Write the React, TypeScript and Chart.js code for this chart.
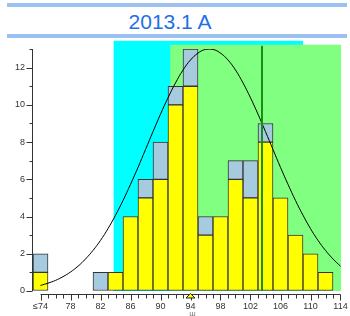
import React, { useEffect, useRef } from "react";
import { Chart, registerables } from "chart.js";

Chart.register(...registerables);

// ---- data ----
const binCenters = [74, 76, 78, 80, 82, 84, 86, 88, 90, 92, 94, 96, 98, 100, 102, 104, 106, 108, 110, 112];
const yellowCounts = [1, 0, 0, 0, 0, 1, 4, 5, 6, 10, 11, 3, 4, 6, 5, 8, 5, 3, 2, 1];
const blueCounts = [1, 0, 0, 0, 1, 0, 0, 1, 2, 1, 2, 1, 0, 1, 2, 1, 0, 0, 0, 0];

const curveX = [74, 75, 76, 77, 78, 79, 80, 81, 82, 83, 84, 85, 86, 87, 88, 89, 90, 91, 92, 93, 94,
  95, 96, 97, 98, 99, 100, 101, 102, 103, 104, 105, 106, 107, 108, 109, 110, 111, 112, 113, 114];
const curveY = [0.30, 0.42, 0.57, 0.77, 1.02, 1.33, 1.72, 2.18, 2.72, 3.35, 4.07, 4.86, 5.73, 6.64, 7.60,
  8.56, 9.50, 10.38, 11.18, 11.87, 12.41, 12.78, 12.98, 12.98, 12.78, 12.41, 11.87, 11.18, 10.38, 9.50,
  8.56, 7.60, 6.64, 5.73, 4.86, 4.07, 3.35, 2.72, 2.18, 1.72, 1.33];

const xTickValues = [74, 78, 82, 86, 90, 94, 98, 102, 106, 110, 114];
const xTickLabels = ["≤74", "78", "82", "86", "90", "94", "98", "102", "106", "110", "114"];
const yTickValues = [0, 1, 2, 3, 4, 5, 6, 7, 8, 9, 10, 11, 12, 13];
const yTickLabels = ["0", "", "2", "", "4", "", "6", "", "8", "", "10", "", "12", ""];

const cyanBand = [83.75, 109.0]; // x range
const cyanTop = 13.44;
const greenBand = [91.3, 114.07];
const greenTop = 13.23;
const targetLine = 103.53;
const targetTop = 13.17;
const markerValue = 94;
const titleText = "2013.1 A";

const FONT = "'Liberation Sans', Arial, sans-serif";

const decorPlugin = {
  id: "decor",
  beforeDatasetsDraw(chart: any) {
    const { ctx, scales } = chart;
    const x = scales.x, y = scales.y;
    const y0 = y.getPixelForValue(0);
    ctx.save();
    ctx.fillStyle = "#00ffff";
    const cx0 = x.getPixelForValue(cyanBand[0]);
    const cx1 = x.getPixelForValue(cyanBand[1]);
    const cy = y.getPixelForValue(cyanTop);
    ctx.fillRect(cx0, cy, cx1 - cx0, y0 - cy);
    ctx.fillStyle = "#80ff80";
    const gx0 = x.getPixelForValue(greenBand[0]);
    const gx1 = x.getPixelForValue(greenBand[1]);
    const gy = y.getPixelForValue(greenTop);
    ctx.fillRect(gx0, gy, gx1 - gx0, y0 - gy);
    ctx.restore();
  },
  afterDatasetsDraw(chart: any) {
    const { ctx, scales } = chart;
    const x = scales.x, y = scales.y;
    ctx.save();
    ctx.strokeStyle = "#149014";
    ctx.lineWidth = 2;
    const lx = x.getPixelForValue(targetLine);
    ctx.beginPath();
    ctx.moveTo(lx, y.getPixelForValue(targetTop));
    ctx.lineTo(lx, y.getPixelForValue(0));
    ctx.stroke();
    ctx.restore();
  },
  afterDraw(chart: any) {
    const { ctx, scales, chartArea } = chart;
    const x = scales.x, y = scales.y;
    ctx.save();
    ctx.strokeStyle = "#333";
    ctx.lineWidth = 1;
    // y axis
    const ax = Math.round(chartArea.left) - 0.5;
    ctx.beginPath();
    ctx.moveTo(ax, y.getPixelForValue(13));
    ctx.lineTo(ax, y.getPixelForValue(0));
    for (const v of yTickValues) {
      const py = Math.round(y.getPixelForValue(v)) + 0.5;
      const len = v % 2 === 0 ? 6 : 3;
      ctx.moveTo(ax - len, py);
      ctx.lineTo(ax, py);
    }
    ctx.stroke();
    // x axis
    const ay = Math.round(chartArea.bottom) + 0.5;
    const first = xTickValues[0];
    const last = xTickValues[xTickValues.length - 1];
    ctx.beginPath();
    ctx.moveTo(x.getPixelForValue(first), ay);
    ctx.lineTo(x.getPixelForValue(last), ay);
    for (let v = first; v <= last; v++) {
      const px = Math.round(x.getPixelForValue(v)) + 0.5;
      const len = xTickValues.includes(v) ? 6 : 4;
      ctx.moveTo(px, ay);
      ctx.lineTo(px, ay + len);
    }
    ctx.stroke();
    // marker triangle
    const mx = x.getPixelForValue(markerValue);
    ctx.beginPath();
    ctx.moveTo(mx, ay - 1);
    ctx.lineTo(mx + 4.5, ay + 3.5);
    ctx.lineTo(mx - 4.5, ay + 3.5);
    ctx.closePath();
    ctx.fillStyle = "#ffff00";
    ctx.fill();
    ctx.strokeStyle = "#222";
    ctx.stroke();
    // tiny cut-off label under marker
    ctx.fillStyle = "#777";
    ctx.font = `8px ${FONT}`;
    ctx.textAlign = "center";
    ctx.textBaseline = "top";
    ctx.fillText("ш", mx + 2, 310);
    ctx.restore();
  },
};

export default function App() {
  const canvasRef = useRef<HTMLCanvasElement | null>(null);

  useEffect(() => {
    const canvas = canvasRef.current;
    if (!canvas) return;
    const chart = new Chart(canvas, {
      type: "bar",
      data: {
        datasets: [
          {
            type: "line",
            label: "Normal",
            data: curveX.map((v, i) => ({ x: v, y: curveY[i] })),
            borderColor: "#000",
            borderWidth: 1,
            pointRadius: 0,
            tension: 0.4,
            fill: false,
            stack: "curve",
            order: 0,
          } as any,
          {
            type: "bar",
            label: "A",
            data: binCenters.map((v, i) => ({ x: v, y: yellowCounts[i] || null })),
            backgroundColor: "#ffff00",
            borderColor: "#333",
            borderWidth: 1,
            borderSkipped: false,
            barPercentage: 1,
            categoryPercentage: 1,
            stack: "bars",
            order: 1,
          } as any,
          {
            type: "bar",
            label: "B",
            data: binCenters.map((v, i) => ({ x: v, y: blueCounts[i] || null })),
            backgroundColor: "#a6cade",
            borderColor: "#333",
            borderWidth: 1,
            borderSkipped: false,
            barPercentage: 1,
            categoryPercentage: 1,
            stack: "bars",
            order: 2,
          } as any,
        ],
      },
      options: {
        responsive: false,
        animation: false,
        layout: { padding: { left: 0, right: 8, top: 49, bottom: 0 } },
        plugins: {
          legend: { display: false },
          tooltip: { enabled: false },
          title: { display: false },
        },
        scales: {
          x: {
            type: "linear",
            min: 73,
            max: 114.2,
            offset: false,
            stacked: true,
            grid: { drawOnChartArea: false, drawTicks: false, color: "transparent", offset: false },
            border: { display: false },
            ticks: {
              padding: 7,
              autoSkip: false,
              maxRotation: 0,
              color: "#333",
              font: { family: FONT, size: 9 },
              callback: (value: any) => {
                const idx = xTickValues.indexOf(Number(value));
                return idx >= 0 ? xTickLabels[idx] : "";
              },
            },
            afterBuildTicks: (scale: any) => {
              scale.ticks = xTickValues.map((value) => ({ value }));
            },
            afterFit: (scale: any) => {
              scale.height = 22;
              scale.paddingLeft = 0;
              scale.paddingRight = 0;
            },
          },
          y: {
            type: "linear",
            min: -0.161,
            max: 13,
            stacked: true,
            grid: { drawOnChartArea: false, drawTicks: false, color: "transparent" },
            border: { display: false },
            ticks: {
              padding: 8,
              color: "#333",
              font: { family: FONT, size: 9 },
              callback: (value: any) => {
                const idx = yTickValues.indexOf(Number(value));
                return idx >= 0 ? yTickLabels[idx] : "";
              },
            },
            afterBuildTicks: (scale: any) => {
              scale.ticks = yTickValues.map((value) => ({ value }));
            },
            afterFit: (scale: any) => {
              scale.width = 33;
              scale.paddingTop = 0;
              scale.paddingBottom = 0;
            },
          },
        },
      },
      plugins: [decorPlugin],
    } as any);
    return () => chart.destroy();
  }, []);

  return (
    <div style={{ position: "absolute", left: 0, top: 0, width: 350, height: 316, background: "#fff", overflow: "hidden" }}>
      <div style={{ position: "absolute", left: 7, top: 3, width: 340, height: 4, background: "#9cc0f0" }} />
      <div
        style={{
          position: "absolute",
          left: 0,
          top: 10,
          width: 340,
          textAlign: "center",
          fontFamily: FONT,
          fontSize: 21,
          lineHeight: "24px",
          color: "#1f6fe5",
        }}
      >
        {titleText}
      </div>
      <div style={{ position: "absolute", left: 7, top: 34, width: 340, height: 4, background: "#9cc0f0" }} />
      <canvas ref={canvasRef} width={350} height={316} style={{ position: "absolute", left: 0, top: 0 }} />
    </div>
  );
}
